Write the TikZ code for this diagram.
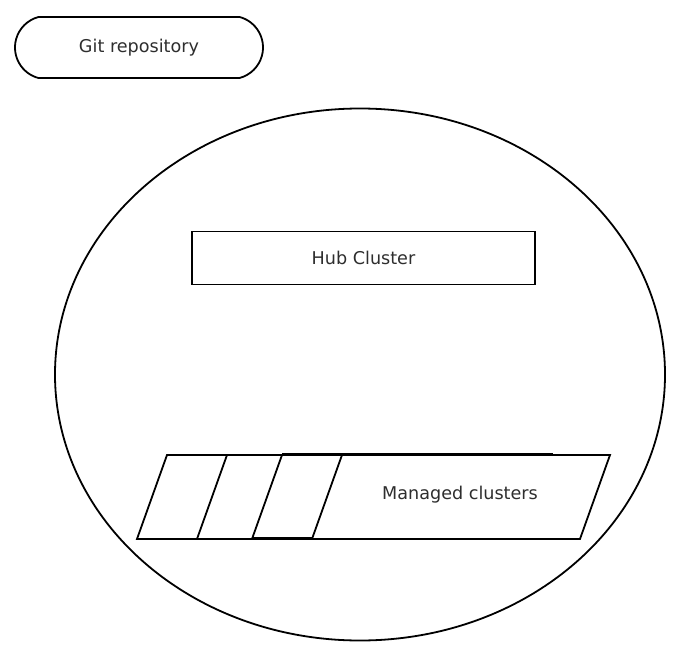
\documentclass[tikz,border=0pt]{standalone}
\usepackage{fontspec}
\setmainfont{DejaVu Sans}
\usetikzlibrary{shapes.geometric,shapes.misc}
\begin{document}
\begin{tikzpicture}[x=1pt,y=-1pt,line width=1.8pt,
  lbl/.style={font=\fontsize{17.6}{21}\selectfont,text=black!82},
  shapebox/.style={draw=black,inner sep=0pt}]
\useasboundingbox[fill=white] (0,0) rectangle (683,650);
% Git repository
\node[shapebox,rounded rectangle,rounded rectangle arc length=150,minimum width=248pt,minimum height=61pt,lbl] (git) at (139,47.5) {Git repository};
% big ellipse
\node[shapebox,ellipse,minimum width=610pt,minimum height=532pt] (area) at (360,374.5) {};
% hub cluster
\node[shapebox,rectangle,minimum width=343pt,minimum height=53pt,lbl] (hub) at (363.5,258) {Hub Cluster};
% managed clusters
\coordinate (bl) at (137,539);
\coordinate (tl) at (167,455);
\coordinate (tr) at (610,455);
\coordinate (br) at (580,539);
\draw (bl) -- (tl) -- (tr) -- (br) -- cycle;
\coordinate (d1t) at (227,455);
\coordinate (d1b) at (197,539);
\coordinate (d2t) at (282,455);
\coordinate (d2b) at (252,539);
\coordinate (d3t) at (342,455);
\coordinate (d3b) at (312,539);
\draw (d1t) -- (d1b);
\draw (d2t) -- (d2b);
\draw (d3t) -- (d3b);
\coordinate (e1) at (282,453.5);
\coordinate (e2) at (553,453.5);
\draw (e1) -- (e2);
\coordinate (f1) at (252,538);
\coordinate (f2) at (312,538);
\draw (f1) -- (f2);
\node[lbl] (managed) at (460,495) {Managed clusters};
\end{tikzpicture}
\end{document}
